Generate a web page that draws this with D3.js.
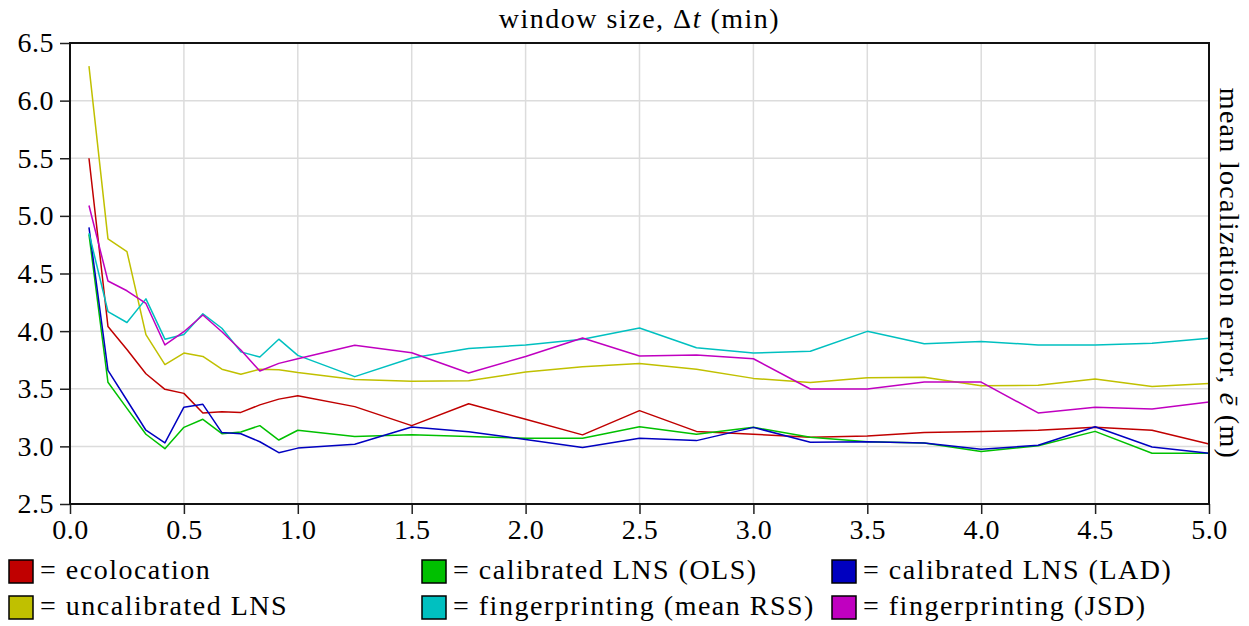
<!DOCTYPE html>
<html>
<head>
<meta charset="utf-8">
<script src="https://cdn.jsdelivr.net/npm/d3@7"></script>
<style>
  body { margin: 0; background: #fff; font-family: "Liberation Serif", serif; }
  #chart text, #chart tspan { font-family: "Liberation Serif", serif !important; }
</style>
</head>
<body>
<svg id="chart" width="1249" height="626" font-family="Liberation Serif"></svg>
<script>
var serif = 'Liberation Serif';

// window size (min)
var windowSizes = [0.0833, 0.1667, 0.25, 0.3333, 0.4167, 0.5, 0.5833, 0.6667, 0.75, 0.8333, 0.9167, 1.0,
    1.25, 1.5, 1.75, 2.0, 2.25, 2.5, 2.75, 3.0, 3.25, 3.5, 3.75, 4.0, 4.25, 4.5, 4.75, 5.0];

var ecolocation = [5.50, 4.04, 3.84, 3.63, 3.495, 3.46, 3.29, 3.30, 3.295, 3.36, 3.41, 3.44,
    3.345, 3.18, 3.37, 3.235, 3.10, 3.31, 3.13, 3.105, 3.08, 3.09, 3.12, 3.13, 3.14, 3.165, 3.14, 3.02];
var calibratedOLS = [4.84, 3.556, 3.33, 3.105, 2.98, 3.165, 3.235, 3.11, 3.125, 3.18, 3.055, 3.14,
    3.085, 3.10, 3.085, 3.07, 3.07, 3.17, 3.105, 3.165, 3.08, 3.04, 3.03, 2.955, 3.005, 3.13, 2.94, 2.94];
var calibratedLAD = [4.90, 3.66, 3.40, 3.14, 3.03, 3.34, 3.365, 3.12, 3.11, 3.04, 2.945, 2.985,
    3.018, 3.168, 3.127, 3.06, 2.99, 3.07, 3.05, 3.165, 3.035, 3.04, 3.03, 2.975, 3.01, 3.17, 2.995, 2.94];
var uncalibrated = [6.30, 4.80, 4.69, 3.97, 3.71, 3.81, 3.78, 3.67, 3.625, 3.67, 3.665, 3.64,
    3.58, 3.565, 3.57, 3.645, 3.69, 3.72, 3.67, 3.59, 3.555, 3.595, 3.60, 3.527, 3.53, 3.585, 3.52, 3.545];
var meanRSS = [4.85, 4.17, 4.075, 4.28, 3.93, 3.97, 4.15, 4.025, 3.82, 3.775, 3.93, 3.79,
    3.605, 3.767, 3.85, 3.88, 3.93, 4.027, 3.856, 3.81, 3.825, 3.998, 3.89, 3.91, 3.88, 3.88, 3.894, 3.938];
var jsd = [5.09, 4.435, 4.35, 4.24, 3.88, 3.995, 4.14, 3.995, 3.836, 3.654, 3.72, 3.76,
    3.877, 3.813, 3.637, 3.78, 3.94, 3.784, 3.793, 3.76, 3.498, 3.498, 3.558, 3.558, 3.29, 3.34, 3.325, 3.385];

var seriesNames = ['ecolocation', 'calibrated LNS (OLS)', 'calibrated LNS (LAD)',
    'uncalibrated LNS', 'fingerprinting (mean RSS)', 'fingerprinting (JSD)'];
var seriesValues = [ecolocation, calibratedOLS, calibratedLAD, uncalibrated, meanRSS, jsd];
var seriesColors = ['#c00000', '#00c000', '#0000c0', '#c0c000', '#00c0c0', '#c000c0'];

var xTicks = [0.0, 0.5, 1.0, 1.5, 2.0, 2.5, 3.0, 3.5, 4.0, 4.5, 5.0];
var yTicks = [2.5, 3.0, 3.5, 4.0, 4.5, 5.0, 5.5, 6.0, 6.5];

// plot box (window.top is reserved, so no bare "top" here)
var plotLeft = 70, plotRight = 1209, plotTop = 43, plotBottom = 504;

var svg = d3.select('#chart');

var x = d3.scaleLinear().domain([0, 5]).range([plotLeft, plotRight]);
var y = d3.scaleLinear().domain([2.5, 6.5]).range([plotBottom, plotTop]);

// grid
var grid = svg.append('g');
grid.selectAll('line.gx').data(xTicks).enter().append('line')
    .attr('x1', function(d) { return x(d); })
    .attr('x2', function(d) { return x(d); })
    .attr('y1', plotTop).attr('y2', plotBottom)
    .attr('stroke', '#dcdcdc').attr('stroke-width', 1.5);
grid.selectAll('line.gy').data(yTicks).enter().append('line')
    .attr('y1', function(d) { return y(d); })
    .attr('y2', function(d) { return y(d); })
    .attr('x1', plotLeft).attr('x2', plotRight)
    .attr('stroke', '#dcdcdc').attr('stroke-width', 1.5);

// lines
var line = d3.line()
    .x(function(d, i) { return x(windowSizes[i]); })
    .y(function(d) { return y(d); });

svg.append('g').selectAll('path').data(seriesValues).enter().append('path')
    .attr('d', line)
    .attr('fill', 'none')
    .attr('stroke', function(d, i) { return seriesColors[i]; })
    .attr('stroke-width', 1.5)
    .attr('stroke-linejoin', 'round');

// axes
var xAxis = svg.append('g')
    .attr('transform', 'translate(0,' + plotBottom + ')')
    .call(d3.axisBottom(x).tickValues(xTicks).tickFormat(d3.format('.1f')).tickSize(10).tickPadding(5));
var yAxis = svg.append('g')
    .attr('transform', 'translate(' + plotLeft + ',0)')
    .call(d3.axisLeft(y).tickValues(yTicks).tickFormat(d3.format('.1f')).tickSize(10).tickPadding(6));

[xAxis, yAxis].forEach(function(a) {
    a.attr('font-family', serif).attr('font-size', 28);
    a.select('.domain').remove();
    a.selectAll('line').attr('stroke', '#222').attr('stroke-width', 1.5);
    a.selectAll('text')
        .attr('font-family', serif)
        .attr('font-size', 28)
        .attr('fill', '#000')
        .attr('letter-spacing', 0.5);
});

// frame
svg.append('rect')
    .attr('x', plotLeft).attr('y', plotTop)
    .attr('width', plotRight - plotLeft).attr('height', plotBottom - plotTop)
    .attr('fill', 'none').attr('stroke', '#111').attr('stroke-width', 2);

// title
var title = svg.append('text')
    .attr('x', (plotLeft + plotRight) / 2).attr('y', 28)
    .attr('text-anchor', 'middle')
    .attr('font-family', serif)
    .attr('font-size', 28).attr('letter-spacing', 1.5);
title.append('tspan').text('window size, \u0394');
title.append('tspan').attr('font-style', 'italic').text('t');
title.append('tspan').text(' (min)');

// right label
var ylab = svg.append('text')
    .attr('transform', 'translate(1220,' + ((plotTop + plotBottom) / 2) + ') rotate(90)')
    .attr('text-anchor', 'middle')
    .attr('font-family', serif)
    .attr('font-size', 28).attr('letter-spacing', 1.3);
ylab.append('tspan').text('mean localization error, ');
ylab.append('tspan').attr('font-style', 'italic').text('\u0113');
ylab.append('tspan').text(' (m)');

// legend
var legendX = [9, 422, 832];
var legendY = [560, 596];
var items = svg.append('g').selectAll('g').data(seriesNames).enter().append('g')
    .attr('transform', function(d, i) {
        return 'translate(' + legendX[i % 3] + ',' + legendY[Math.floor(i / 3)] + ')';
    });
items.append('rect')
    .attr('width', 24).attr('height', 23)
    .attr('fill', function(d, i) { return seriesColors[i]; })
    .attr('stroke', '#000').attr('stroke-width', 1.5);
items.append('text')
    .attr('x', 31).attr('y', 19)
    .attr('font-family', serif)
    .attr('font-size', 28).attr('letter-spacing', 1.5)
    .text(function(d) { return '= ' + d; });
</script>
</body>
</html>
